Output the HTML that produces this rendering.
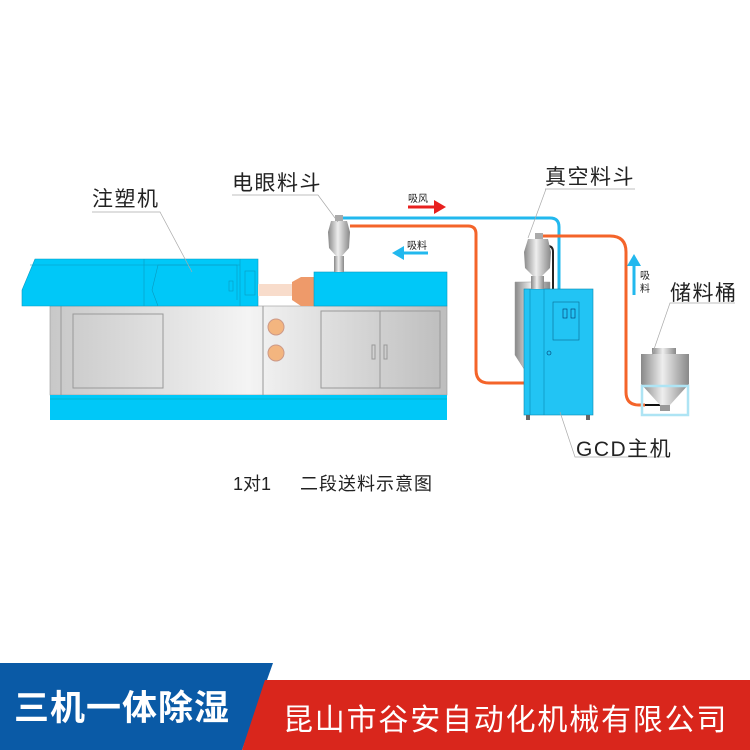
<!DOCTYPE html>
<html><head><meta charset="utf-8"><style>
body{margin:0;background:#fff}
svg{display:block}
text{font-family:"Liberation Sans","Noto Sans CJK SC",sans-serif}
</style></head><body>
<svg width="750" height="750" viewBox="0 0 750 750" xmlns="http://www.w3.org/2000/svg">
<defs>
<linearGradient id="g" x1="0" x2="1"><stop offset="0" stop-color="#c8c8c8"/><stop offset=".5" stop-color="#f4f4f4"/><stop offset="1" stop-color="#bdbdbd"/></linearGradient>
<linearGradient id="h" x1="0" x2="1"><stop offset="0" stop-color="#888"/><stop offset=".45" stop-color="#eee"/><stop offset="1" stop-color="#888"/></linearGradient>
</defs>
<rect x="50" y="306" width="397" height="89" fill="url(#g)" stroke="#999" stroke-width=".6"/>
<line x1="61" y1="306" x2="61" y2="395" stroke="#999"/>
<line x1="263" y1="306" x2="263" y2="395" stroke="#999"/>
<rect x="73" y="314" width="90" height="74" fill="none" stroke="#999"/>
<rect x="321" y="311" width="119" height="77" fill="none" stroke="#999"/>
<line x1="380" y1="311" x2="380" y2="388" stroke="#999"/>
<rect x="372" y="345" width="3" height="14" fill="none" stroke="#999"/>
<rect x="384" y="345" width="3" height="14" fill="none" stroke="#999"/>
<circle cx="276" cy="327" r="8" fill="#f3b57f" stroke="#c98"/>
<circle cx="276" cy="353" r="8" fill="#f3b57f" stroke="#c98"/>
<rect x="50" y="395" width="397" height="25" fill="#00c8f8"/>
<line x1="50" y1="399" x2="447" y2="399" stroke="#0aa" stroke-width=".6"/>
<polygon points="35,259 258,259 258,306 22,306 22,290" fill="#00c8f8" stroke="#0a9ac0" stroke-width=".6"/>
<line x1="30" y1="265" x2="240" y2="265" stroke="#0a9ac0" stroke-width=".6"/>
<line x1="144" y1="259" x2="144" y2="306" stroke="#0a9ac0" stroke-width=".6"/>
<line x1="240" y1="259" x2="240" y2="306" stroke="#0a9ac0" stroke-width=".6"/>
<polyline points="158,306 152,290 158,265 237,265 237,300" fill="none" stroke="#0a9ac0" stroke-width=".6"/>
<rect x="245" y="271" width="10" height="24" fill="none" stroke="#0a9ac0" stroke-width=".6"/>
<rect x="229" y="281" width="4" height="10" fill="none" stroke="#0a9ac0" stroke-width=".6"/>
<rect x="258" y="284" width="36" height="12" fill="#f8dccb"/>
<polygon points="292,282 301,277 314,277 314,306 301,306 292,300" fill="#ee9a6a"/>
<rect x="314" y="272" width="133" height="34" fill="#00c8f8" stroke="#0a9ac0" stroke-width=".6"/>
<path d="M342,218 H550 Q559,218 559,227 V290" fill="none" stroke="#22b8ee" stroke-width="3"/>
<path d="M350,226 H468 Q476,226 476,234 V370 Q476,383 489,383 H524" fill="none" stroke="#f4642a" stroke-width="3"/>
<path d="M537,236 H610 Q626,236 626,252 V392 Q626,405 639,405 H645" fill="none" stroke="#f4642a" stroke-width="3"/>
<path d="M548,246 Q553,246 553,252 V290" fill="none" stroke="#222" stroke-width="2"/>
<line x1="645" y1="405" x2="660" y2="405" stroke="#111" stroke-width="2"/>
<g>
<rect x="335" y="215" width="8" height="6" fill="#aaa"/>
<polygon points="331,221 347,221 350,232 328,232" fill="url(#h)"/>
<polygon points="328,232 350,232 349,248 342,256 336,256 329,248" fill="url(#h)"/>
<rect x="334" y="256" width="10" height="16" fill="url(#h)"/>
</g>
<polygon points="515,282 550,282 550,350 530,378 515,355" fill="url(#h)" stroke="#999" stroke-width=".5"/>
<rect x="524" y="289" width="69" height="126" fill="#22c4f4" stroke="#0a8ab0" stroke-width=".6"/>
<line x1="530" y1="289" x2="530" y2="415" stroke="#0a8ab0" stroke-width=".6"/>
<line x1="544" y1="289" x2="544" y2="415" stroke="#0a8ab0" stroke-width=".6"/>
<rect x="553" y="302" width="26" height="38" fill="none" stroke="#0a6a90" stroke-width=".6"/>
<rect x="563" y="309" width="4" height="9" fill="none" stroke="#036" stroke-width=".6"/>
<rect x="571" y="309" width="4" height="9" fill="none" stroke="#036" stroke-width=".6"/>
<circle cx="549" cy="353" r="2" fill="none" stroke="#036" stroke-width=".6"/>
<rect x="526" y="415" width="4" height="5" fill="#666"/><rect x="586" y="415" width="4" height="5" fill="#666"/>
<rect x="535" y="233" width="8" height="6" fill="#aaa"/>
<polygon points="528,239 548,239 551,252 524,252" fill="url(#h)"/>
<polygon points="524,252 551,252 550,268 542,276 533,276 525,268" fill="url(#h)"/>
<rect x="531" y="276" width="13" height="13" fill="url(#h)"/>
<rect x="652" y="348" width="24" height="6" fill="url(#h)"/>
<rect x="641" y="354" width="48" height="30" fill="url(#h)"/>
<polygon points="641,384 689,384 670,405 660,405" fill="url(#h)"/>
<rect x="660" y="405" width="10" height="6" fill="#999"/>
<rect x="642" y="386" width="46" height="29" fill="none" stroke="#aee4f4" stroke-width="2.5"/>
<line x1="408" y1="207" x2="434" y2="207" stroke="#e8201e" stroke-width="3"/><polygon points="434,200 446,207 434,214" fill="#e8201e"/>
<line x1="402" y1="253" x2="428" y2="253" stroke="#22b8ee" stroke-width="3"/><polygon points="404,246 392,253 404,260" fill="#22b8ee"/>
<line x1="634" y1="266" x2="634" y2="295" stroke="#22b8ee" stroke-width="3"/><polygon points="627,266 634,254 641,266" fill="#22b8ee"/>
<g stroke="#aaa" stroke-width=".7" fill="none">
<polyline points="92,212 160,212 192,272"/>
<polyline points="232,195 318,195 338,222"/>
<polyline points="545,189 635,189"/><line x1="546" y1="189" x2="528" y2="238"/>
<polyline points="735,303 670,303 652,355"/>
<polyline points="665,457 575,457 560,412"/>
</g>
<g fill="#222" font-size="21" letter-spacing="1.5">
<text x="92" y="206">注塑机</text>
<text x="232" y="190">电眼料斗</text>
<text x="545" y="184">真空料斗</text>
<text x="670" y="300">储料桶</text>
<text x="576" y="456">GCD主机</text>
</g>
<text x="233" y="490" font-size="18" fill="#222">1对1</text>
<text x="300" y="490" font-size="18" fill="#222" letter-spacing="1">二段送料示意图</text>
<g fill="#222" font-size="10">
<text x="408" y="202">吸风</text>
<text x="407" y="249">吸料</text>
<text x="640" y="279">吸</text><text x="640" y="292">料</text>
</g>
<polygon points="0,663 273,663 242,750 0,750" fill="#0a5aa6"/>
<polygon points="265,680 750,680 750,750 242,750" fill="#d9261c"/>
<text x="14" y="720" font-size="35" font-weight="bold" fill="#fff" letter-spacing="1">三机一体除湿</text>
<text x="283" y="730" font-size="30" fill="#fff" letter-spacing="1.8">昆山市谷安自动化机械有限公司</text>
</svg>
</body></html>
